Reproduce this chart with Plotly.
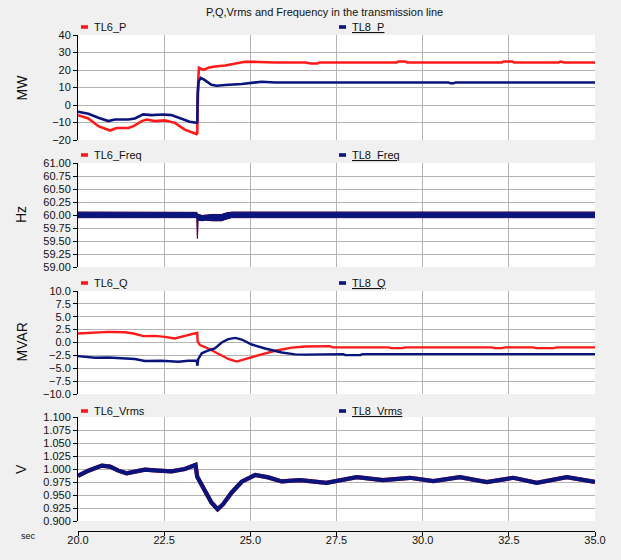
import plotly.graph_objects as go

W, H = 621, 560

# ---------------- data ----------------
title_text = "P,Q,Vrms and Frequency in the transmission line"
x_ticks = [20.0, 22.5, 25.0, 27.5, 30.0, 32.5, 35.0]

# Panel 1: active power (MW)
t_p6 = [20.0, 20.3, 20.59, 20.93, 21.12, 21.46, 21.61, 21.85, 21.99, 22.23, 22.52, 22.81,
        23.1, 23.44, 23.46, 23.47, 23.49, 23.51, 23.64, 23.78, 23.97, 24.27, 24.55, 24.84,
        25.23, 25.72, 26.6, 26.75, 26.95, 27.0, 29.25, 29.3, 29.5, 29.55, 32.3, 32.35,
        32.6, 32.65, 33.95, 34.0, 34.1, 35.0]
p6 = [-5.8, -7.7, -12.1, -14.6, -13.1, -13.1, -12.1, -9.2, -8.3, -9.2, -8.8, -10.2,
      -14.1, -16.6, -16.0, 7.0, 15.0, 21.3, 20.1, 21.3, 22.0, 22.6, 23.6, 24.7,
      24.6, 24.3, 24.3, 23.7, 23.7, 24.3, 24.3, 24.9, 24.9, 24.3, 24.3, 24.9,
      24.9, 24.3, 24.3, 24.8, 24.3, 24.3]
t_p8 = [20.0, 20.3, 20.59, 20.88, 21.07, 21.46, 21.65, 21.89, 22.13, 22.46, 22.71, 23.0,
        23.24, 23.44, 23.46, 23.47, 23.5, 23.56, 23.67, 23.87, 24.02, 24.27, 24.75, 25.33,
        25.72, 30.75, 30.8, 30.9, 30.95, 35.0]
p8 = [-3.8, -5.0, -7.3, -9.2, -8.3, -8.3, -7.7, -5.4, -5.8, -5.4, -5.8, -7.7,
      -9.6, -10.2, -9.5, 6.2, 13.5, 15.5, 14.3, 11.6, 11.0, 11.4, 12.0, 13.3,
      12.9, 12.9, 12.4, 12.4, 12.9, 12.9]

# Panel 2: frequency (Hz) - envelope of the noisy band
t_f = [20.0, 23.43, 23.45, 23.465, 23.48, 23.5, 23.6, 23.7, 23.9, 24.17, 24.3, 24.46, 35.0]
f_hi = [60.055, 60.055, 60.05, 60.02, 60.01, 60.01, 59.99, 60.0, 60.01, 60.01, 60.04, 60.055, 60.055]
f_lo = [59.95, 59.95, 59.92, 59.55, 59.88, 59.9, 59.89, 59.9, 59.89, 59.89, 59.92, 59.95, 59.95]

# Panel 3: reactive power (MVAR)
t_q6 = [20.0, 20.49, 20.88, 21.36, 21.61, 21.9, 22.23, 22.52, 22.81, 23.1, 23.41, 23.46,
        23.47, 23.54, 23.78, 24.07, 24.36, 24.6, 24.94, 25.33, 25.72, 26.2, 26.6, 27.3,
        27.4, 29.0, 29.1, 29.4, 29.5, 32.0, 32.1, 32.3, 32.4, 33.2, 33.3, 33.8, 33.9, 35.0]
q6 = [1.74, 1.87, 2.06, 2.0, 1.74, 1.23, 1.29, 1.1, 0.77, 1.29, 1.87, 1.87,
      0.2, -0.5, -1.16, -2.1, -3.2, -3.7, -3.0, -2.3, -1.6, -1.0, -0.77, -0.7,
      -0.95, -0.95, -1.1, -1.1, -0.95, -0.95, -1.1, -1.1, -0.95, -0.95, -1.1, -1.1, -0.95, -0.95]
t_q8 = [20.0, 20.49, 20.88, 21.36, 21.65, 21.94, 22.42, 22.91, 23.2, 23.44, 23.465, 23.49,
        23.59, 23.78, 23.97, 24.17, 24.36, 24.57, 24.75, 25.04, 25.43, 25.91, 26.3, 26.6,
        27.7, 27.75, 28.2, 28.25, 35.0]
q8 = [-2.65, -2.97, -2.9, -3.1, -3.2, -3.6, -3.55, -3.74, -3.55, -3.55, -4.5, -3.2,
      -2.1, -1.55, -1.16, 0.0, 0.65, 0.9, 0.58, -0.39, -1.16, -1.94, -2.3, -2.35,
      -2.25, -2.45, -2.45, -2.25, -2.25]

# Panel 4: RMS voltage (pu)
t_v = [20.0, 20.3, 20.69, 20.93, 21.17, 21.41, 21.65, 21.94, 22.33, 22.71, 23.1, 23.41,
       23.46, 23.68, 23.87, 24.05, 24.21, 24.46, 24.75, 25.14, 25.52, 25.91, 26.2, 26.44,
       27.21, 28.09, 28.85, 29.63, 30.31, 31.08, 31.86, 32.63, 33.31, 34.18, 35.0]
v8 = [0.987, 0.9968, 1.0065, 1.0045, 0.9968, 0.9916, 0.9949, 0.9987, 0.9968, 0.9955, 1.0, 1.0078,
      0.9852, 0.958, 0.9355, 0.9226, 0.9323, 0.9549, 0.9755, 0.9884, 0.9839, 0.9761, 0.9774, 0.9786,
      0.9734, 0.9844, 0.9786, 0.9831, 0.9766, 0.9844, 0.9747, 0.9831, 0.9734, 0.9844, 0.975]
v6 = v8  # TL6 voltage is hidden under TL8 in the reference

panels = [
    dict(unit="MW", rng=[-20, 40], dtick=10, fmt=".0f", names=("TL6_P", "TL8_P")),
    dict(unit="Hz", rng=[59, 61], dtick=0.25, fmt=".2f", names=("TL6_Freq", "TL8_Freq")),
    dict(unit="MVAR", rng=[-10, 10], dtick=2.5, fmt=".1f", names=("TL6_Q", "TL8_Q")),
    dict(unit="V", rng=[0.9, 1.1], dtick=0.025, fmt=".3f", names=("TL6_Vrms", "TL8_Vrms")),
]

# ---------------- layout geometry (pixels) ----------------
RED = "#ff1a1a"
BLUE = "#0a147d"
GRID = "#b4b4b4"
X0, X1 = 78, 595
panel_px = [(35, 140), (163, 267), (291, 394), (417, 521)]
legend_y = [27, 155, 283, 411]
XAXIS_PX = 531
FONT = "Liberation Sans, Arial, sans-serif"


def px(x):
    return x / W


def py(y):
    return 1 - y / H


fig = go.Figure()

fig.add_trace(go.Scatter(x=t_p6, y=p6, mode="lines", line=dict(color=RED, width=2.6),
                         xaxis="x", yaxis="y", showlegend=False))
fig.add_trace(go.Scatter(x=t_p8, y=p8, mode="lines", line=dict(color=BLUE, width=2.6),
                         xaxis="x", yaxis="y", showlegend=False))
for col in (RED, BLUE):
    fig.add_trace(go.Scatter(x=t_f, y=f_hi, mode="lines", line=dict(color=col, width=1),
                             xaxis="x2", yaxis="y2", showlegend=False))
    fig.add_trace(go.Scatter(x=t_f, y=f_lo, mode="lines", line=dict(color=col, width=1),
                             fill="tonexty", fillcolor=col, xaxis="x2", yaxis="y2",
                             showlegend=False))
fig.add_trace(go.Scatter(x=t_q6, y=q6, mode="lines", line=dict(color=RED, width=2.4),
                         xaxis="x3", yaxis="y3", showlegend=False))
fig.add_trace(go.Scatter(x=t_q8, y=q8, mode="lines", line=dict(color=BLUE, width=2.4),
                         xaxis="x3", yaxis="y3", showlegend=False))
fig.add_trace(go.Scatter(x=t_v, y=v6, mode="lines", line=dict(color=RED, width=4.2),
                         xaxis="x4", yaxis="y4", showlegend=False))
fig.add_trace(go.Scatter(x=t_v, y=v8, mode="lines", line=dict(color=BLUE, width=4.2),
                         xaxis="x4", yaxis="y4", showlegend=False))

layout = dict(
    template="none",
    width=W, height=H,
    margin=dict(l=0, r=0, t=0, b=0, autoexpand=False),
    paper_bgcolor="#f0f0f0",
    plot_bgcolor="white",
    font=dict(family=FONT, size=11, color="#111111"),
    showlegend=False,
)

shapes = []
annotations = [dict(text=title_text, x=px(324), y=py(12), xref="paper", yref="paper",
                    showarrow=False, font=dict(size=11, color="#111111"),
                    xanchor="center", yanchor="middle")]

for i, p in enumerate(panels):
    k = "" if i == 0 else str(i + 1)
    top, bot = panel_px[i]
    xa = dict(domain=[px(X0), px(X1)], range=[20, 35], dtick=2.5, tick0=20,
              showgrid=True, gridcolor=GRID, gridwidth=1, zeroline=False, automargin=False,
              anchor="y" + k, showticklabels=False, ticks="", showline=False)
    if i > 0:
        xa["matches"] = "x"
    if i == 3:
        xa.update(anchor="free", position=py(XAXIS_PX), showticklabels=True, ticks="outside",
                  ticklen=4, tickcolor="black", showline=True, linecolor="black", linewidth=1,
                  tickformat=".1f", tickvals=x_ticks, ticklabelstandoff=-5,
                  tickfont=dict(size=11, color="#111111"))
    ya = dict(domain=[py(bot), py(top)], range=p["rng"], dtick=p["dtick"], tick0=p["rng"][0],
              tickmode="linear", tickformat=p["fmt"], showgrid=True, gridcolor=GRID, gridwidth=1,
              zeroline=False, showline=True, linecolor="black", linewidth=1, automargin=False,
              ticks="outside", ticklen=4, tickcolor="black", anchor="x" + k,
              tickfont=dict(size=11, color="#111111"))
    layout["xaxis" + k] = xa
    layout["yaxis" + k] = ya

    annotations.append(dict(text=p["unit"], x=px(21), y=py((top + bot) / 2), xref="paper",
                            yref="paper", showarrow=False, textangle=-90,
                            font=dict(size=14, color="#111111"),
                            xanchor="center", yanchor="middle"))
    ly = legend_y[i]
    for (mx, tx, col, name, und) in ((81, 92, RED, p["names"][0], False),
                                     (339, 350, BLUE, p["names"][1], True)):
        shapes.append(dict(type="rect", xref="paper", yref="paper", x0=px(mx), x1=px(mx + 7),
                           y0=py(ly + 1.8), y1=py(ly - 1.8), fillcolor=col,
                           line=dict(width=0)))
        annotations.append(dict(text=("<u>%s</u>" % name) if und else name, x=px(tx), y=py(ly),
                                xref="paper", yref="paper", showarrow=False,
                                font=dict(size=11, color="#111111"),
                                xanchor="left", yanchor="middle"))

annotations.append(dict(text="sec", x=px(28), y=py(536), xref="paper", yref="paper",
                        showarrow=False, font=dict(size=9, color="#111111"),
                        xanchor="center", yanchor="middle"))

layout["shapes"] = shapes
layout["annotations"] = annotations
fig.update_layout(**layout)

fig.write_html("out.html")
